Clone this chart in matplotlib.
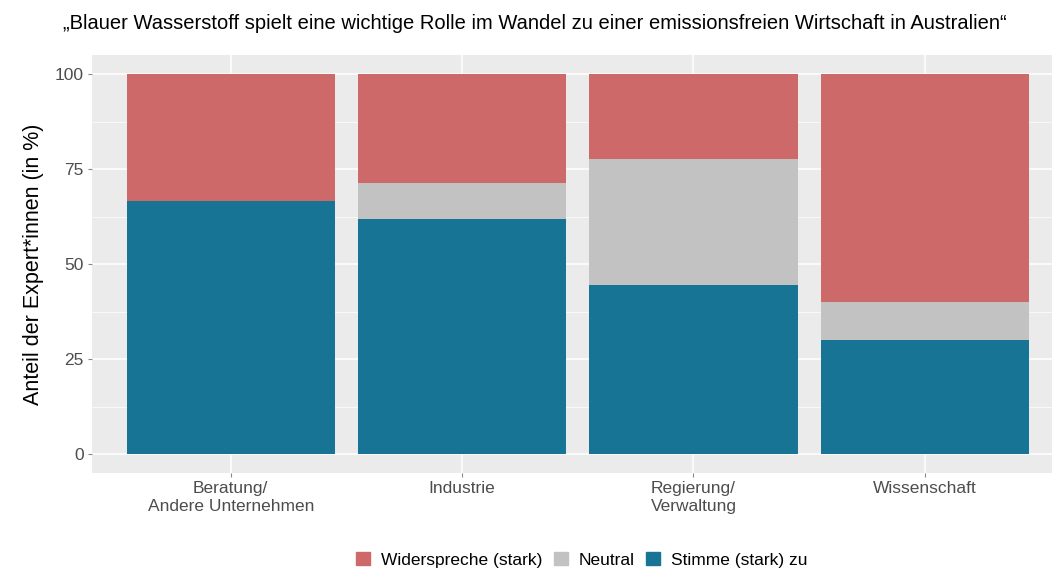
import matplotlib
matplotlib.use("Agg")
from matplotlib import pyplot as plt
from matplotlib.patches import Patch

plt.rcParams['font.family'] = ['Liberation Sans', 'DejaVu Sans']

categories = ["Beratung/\nAndere Unternehmen", "Industrie", "Regierung/\nVerwaltung", "Wissenschaft"]
stimme = [66.7, 61.9, 44.4, 30.0]
neutral = [0.0, 9.5, 33.3, 10.0]
widerspreche = [33.3, 28.6, 22.2, 60.0]
y_ticks = [0, 25, 50, 75, 100]

col_red = "#CD6969"
col_gray = "#C2C2C2"
col_blue = "#187494"

fig = plt.figure(figsize=(10.52, 5.69), dpi=100)
ax = fig.add_axes([92 / 1052, 96 / 569, 960 / 1052, 418 / 569])
ax.set_facecolor("#EBEBEB")

x = list(range(1, len(categories) + 1))
bottom2 = [s + n for s, n in zip(stimme, neutral)]
ax.bar(x, stimme, width=0.9, color=col_blue, zorder=3)
ax.bar(x, neutral, width=0.9, bottom=stimme, color=col_gray, zorder=3)
ax.bar(x, widerspreche, width=0.9, bottom=bottom2, color=col_red, zorder=3)

ax.set_xlim(0.4, 4.55)
ax.set_ylim(-5, 105)
ax.set_yticks(y_ticks)
ax.set_yticks([12.5, 37.5, 62.5, 87.5], minor=True)
ax.set_xticks(x)
ax.set_xticklabels(categories, linespacing=1.2)
ax.grid(which="major", color="white", linewidth=1.1, zorder=0)
ax.grid(which="minor", axis="y", color="white", linewidth=0.5, zorder=0)
ax.tick_params(which="major", colors="#4D4D4D", labelsize=12.5, length=3, color="#888888", pad=3)
ax.tick_params(which="minor", length=0)
for sp in ax.spines.values():
    sp.set_visible(False)

ax.set_ylabel("Anteil der Expert*innen (in %)", fontsize=15.5, labelpad=8)
fig.text(0.508, 0.958, "\u201eBlauer Wasserstoff spielt eine wichtige Rolle im Wandel zu einer emissionsfreien Wirtschaft in Australien\u201c",
         ha="center", va="center", fontsize=14.5)

handles = [Patch(color=col_red, label="Widerspreche (stark)"),
           Patch(color=col_gray, label="Neutral"),
           Patch(color=col_blue, label="Stimme (stark) zu")]
fig.legend(handles=handles, loc="center", bbox_to_anchor=(0.553, 0.016), ncol=3, frameon=False,
           fontsize=12.5, handlelength=0.8, handleheight=0.8, handletextpad=0.6, columnspacing=0.7)

fig.savefig("out.png", dpi=100)
